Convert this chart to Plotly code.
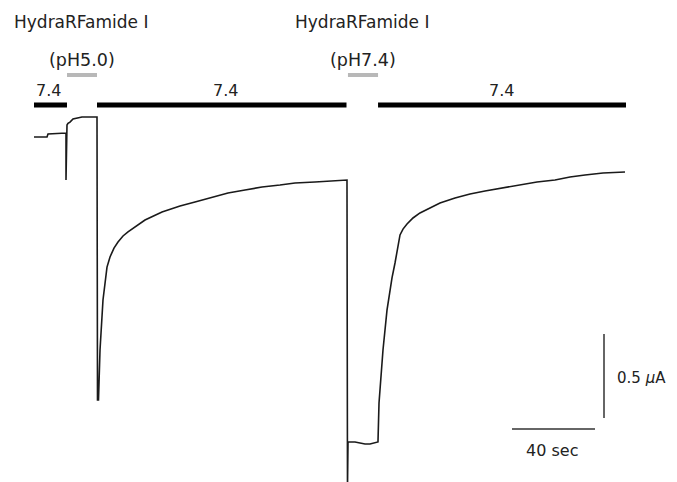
import plotly.graph_objects as go

# Current trace: time (s) and membrane current (uA, relative to initial holding level)
time_s = [0, 6.27, 6.75, 14.94, 15.42, 15.42, 15.90, 16.39, 17.35, 18.80, 20.72, 23.13,
          30.36, 30.60, 31.08, 31.81, 33.25, 34.22, 35.18, 36.63, 38.55, 40.48, 42.89,
          45.30, 48.67, 53.49, 61.69, 70.36, 77.59, 84.82, 93.49, 101.69, 109.88, 118.55,
          125.78, 135.42, 145.06, 150.36, 150.84, 151.08, 151.33, 154.70, 157.11, 159.52,
          161.93, 164.82, 165.78, 166.27, 168.19, 170.12, 171.57, 172.53, 173.98, 174.94,
          175.42, 176.39, 177.83, 179.76, 182.65, 186.02, 190.84, 195.66, 202.89, 210.12,
          217.35, 226.02, 234.22, 242.41, 251.08, 258.31, 265.54, 274.22, 284.82]
current_uA = [-0.006, -0.006, 0.012, 0.018, 0.018, -0.262, 0.065, 0.075, 0.083, 0.101, 0.107, 0.113,
              0.113, -1.571, -1.571, -1.274, -0.976, -0.857, -0.780, -0.720, -0.667, -0.631, -0.595,
              -0.571, -0.542, -0.500, -0.452, -0.417, -0.393, -0.369, -0.339, -0.321, -0.304, -0.292,
              -0.280, -0.274, -0.268, -0.262, -0.262, -2.10, -1.821, -1.821, -1.827, -1.833,
              -1.833, -1.827, -1.821, -1.589, -1.274, -1.036, -0.917, -0.845, -0.756, -0.696,
              -0.661, -0.589, -0.554, -0.524, -0.488, -0.458, -0.429, -0.399, -0.369, -0.345,
              -0.327, -0.310, -0.292, -0.274, -0.262, -0.244, -0.232, -0.220, -0.214]

# Solution application periods (s)
ph_bar_start = [0, 30.36, 165.8]
ph_bar_end = [15.9, 150.6, 285.3]
ph_bar_labels = ["7.4", "7.4", "7.4"]
ph_label_x = [6.75, 92.5, 225.5]
drug_start = [15.9, 151.3]
drug_end = [30.36, 165.8]
drug_labels = ["(pH5.0)", "(pH7.4)"]
drug_names = ["HydraRFamide I", "HydraRFamide I"]
drug_name_x = [22.65, 158.1]

# Scale bars
scale_time_s = 40
scale_current_uA = 0.5
scale_time_label = "40 sec"
scale_current_label = "0.5 <i>\u03bc</i>A"

# page offset (body margin) 8 px -> figure is 669x474
OFF = 8
W, H = 677 - OFF, 482 - OFF
font = "DejaVu Sans"
txt = "#222222"


def py(p):
    """page pixel row -> paper fraction"""
    return 1 - (p - OFF) / H


fig = go.Figure()
fig.add_trace(go.Scatter(x=time_s, y=current_uA, mode="lines",
                         line=dict(color="#1a1a1a", width=1.6), hoverinfo="skip",
                         showlegend=False))

shapes = []
annotations = []
for s, e in zip(ph_bar_start, ph_bar_end):
    shapes.append(dict(type="line", xref="x", yref="paper", x0=s, x1=e,
                       y0=py(105), y1=py(105), line=dict(color="black", width=5)))
for xl, lab in zip(ph_label_x, ph_bar_labels):
    annotations.append(dict(x=xl, y=py(91), xref="x", yref="paper", text=lab,
                            xanchor="center", yanchor="middle",
                            showarrow=False, font=dict(family=font, size=16, color=txt)))
for s, e, lab, name, nx in zip(drug_start, drug_end, drug_labels, drug_names, drug_name_x):
    shapes.append(dict(type="line", xref="x", yref="paper", x0=s, x1=e,
                       y0=py(75), y1=py(75), line=dict(color="#b8b8b8", width=4)))
    annotations.append(dict(x=(s + e) / 2, y=py(60), xref="x", yref="paper", text=lab,
                            xanchor="center", yanchor="middle",
                            showarrow=False, font=dict(family=font, size=17.5, color=txt)))
    annotations.append(dict(x=nx, y=py(22), xref="x", yref="paper", text=name,
                            xanchor="center", yanchor="middle",
                            showarrow=False, font=dict(family=font, size=17, color=txt)))

# scale bars in data units
hx1 = 270.36
hy = -1.744
shapes.append(dict(type="line", xref="x", yref="y", x0=hx1 - scale_time_s, x1=hx1,
                   y0=hy, y1=hy, line=dict(color="#333333", width=1.5)))
vx = 274.7
vy0 = -1.679
shapes.append(dict(type="line", xref="x", yref="y", x0=vx, x1=vx,
                   y0=vy0, y1=vy0 + scale_current_uA, line=dict(color="#333333", width=1.5)))
annotations.append(dict(x=hx1 - scale_time_s / 2 - 0.5, y=-1.873, xref="x", yref="y",
                        text=scale_time_label, showarrow=False,
                        xanchor="center", yanchor="middle",
                        font=dict(family=font, size=16, color=txt)))
annotations.append(dict(x=280.6, y=vy0 + scale_current_uA / 2 - 0.01, xref="x", yref="y",
                        text=scale_current_label, showarrow=False, xanchor="left",
                        yanchor="middle", borderpad=0,
                        font=dict(family=font, size=15, color=txt)))

fig.update_layout(
    width=W, height=H, autosize=False,
    margin=dict(l=0, r=0, t=0, b=0, pad=0),
    paper_bgcolor="white", plot_bgcolor="white",
    xaxis=dict(range=[(OFF - 34) / 2.075, (677 - 34) / 2.075], visible=False, fixedrange=True),
    yaxis=dict(range=[(136 - 482) / 168, (136 - OFF) / 168], visible=False, fixedrange=True),
    shapes=shapes, annotations=annotations,
)
fig.write_html("out.html")
